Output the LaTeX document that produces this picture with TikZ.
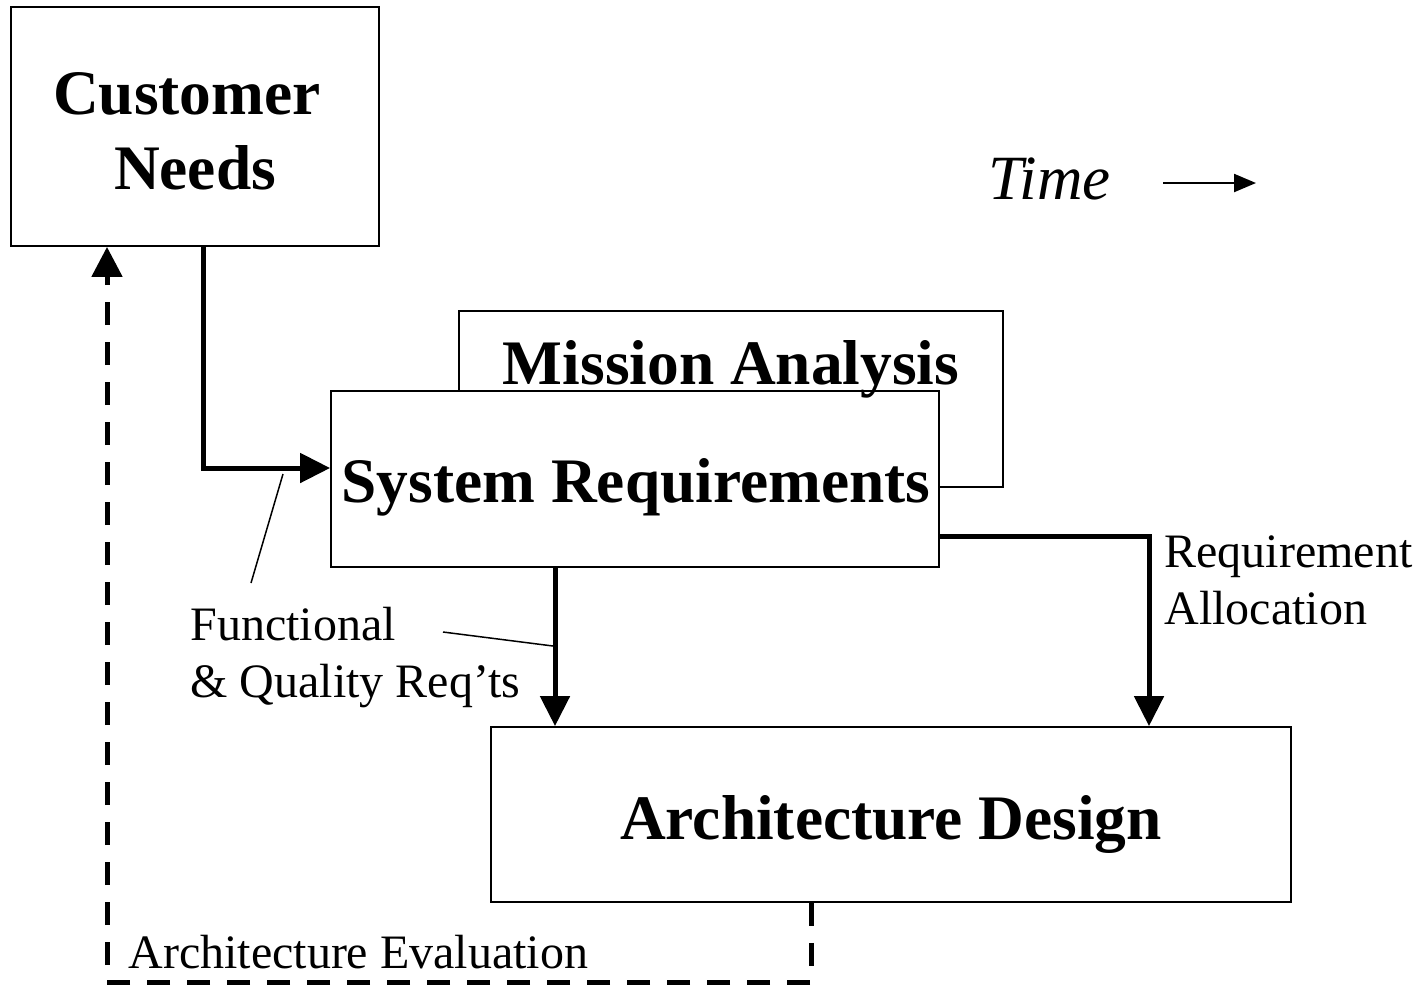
\documentclass[tikz,border=0pt]{standalone}
\usepackage{fontspec}
\setmainfont{Liberation Serif}
\usetikzlibrary{arrows.meta}
\begin{document}
\begin{tikzpicture}[x=0.5pt,y=-0.5pt,
  box/.style n args={2}{draw, fill=white, line width=0.9pt, inner sep=0pt,
    minimum width=#1, minimum height=#2},
  title/.style={inner sep=0pt, anchor=base, font=\fontsize{31.7}{37.5}\selectfont\bfseries},
  note/.style={inner sep=0pt, anchor=base west, font=\fontsize{24}{28.5}\selectfont},
  flow/.style={line width=2.5pt, -{Triangle[length=15pt,width=14.5pt]}},
  feedback/.style={line width=2.5pt, dash pattern=on 11.5pt off 8.5pt,
    -{Triangle[length=15pt,width=15pt]}},
  leader/.style={line width=0.75pt},
  timearrow/.style={line width=1.1pt, -{Triangle[length=11pt,width=9pt]}}
]
\useasboundingbox (0,0) rectangle (1416,986);

% boxes
\node[box={184pt}{119.5pt}] (cn) at (195,126.5) {};
\node[box={272pt}{88pt}] (ma) at (731,399) {};
\node[box={304pt}{88pt}] (sr) at (635,479) {};
\node[box={400pt}{87.5pt}] (ad) at (891,814.5) {};

% box titles
\node[title] (cnt1) at (187,114) {Customer};
\node[title] (cnt2) at (195,189) {Needs};
\node[title] (mat) at (731,384) {Mission Analysis};
\node[title] (srt) at (636,502) {System Requirements};
\node[title] (adt) at (891,839) {Architecture Design};

% time indicator
\node[inner sep=0pt, anchor=base west, font=\fontsize{31.5}{36}\selectfont\itshape]
  (time) at (988,199) {Time};
\coordinate (ta) at (1163,183);
\coordinate (tb) at (1256,183);
\draw[timearrow] (ta) -- (tb);

% main flows
\draw[flow] (cn.south -| 203,0) |- (sr.west |- 0,468);
\draw[flow] (sr.south -| 555,0) -- (ad.north -| 555,0);
\draw[flow] (sr.east |- 0,536) -| (ad.north -| 1149,0);

% evaluation feedback
\coordinate (fb) at (107,982);
\draw[feedback] (ad.south -| 811,0) |- (fb) -- (cn.south -| 107,0);

% labels
\node[note] (fq1) at (190,640) {Functional};
\node[note] (fq2) at (190,697) {\& Quality Req’ts};
\node[note] (ra1) at (1164,567) {Requirement};
\node[note] (ra2) at (1164,624) {Allocation};
\node[note] (ae) at (128,968) {Architecture Evaluation};

% leader lines
\coordinate (l1a) at (283,474);
\coordinate (l1b) at (251,583);
\draw[leader] (l1a) -- (l1b);
\coordinate (l2a) at (443,632);
\coordinate (l2b) at (553,646);
\draw[leader] (l2a) -- (l2b);
\end{tikzpicture}
\end{document}
